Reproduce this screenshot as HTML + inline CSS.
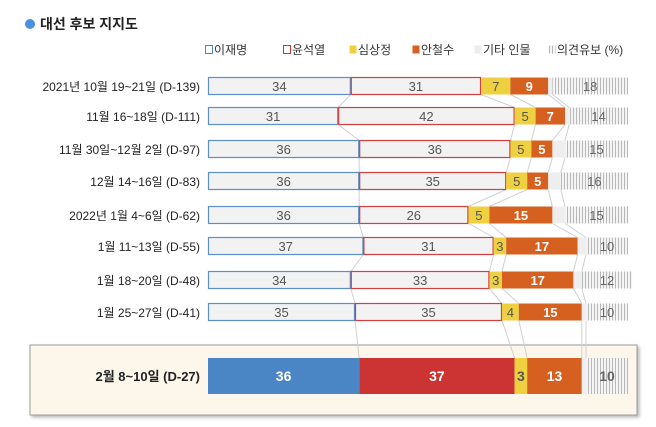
<!DOCTYPE html>
<html><head><meta charset="utf-8">
<style>
body{margin:0;background:#fff;font-family:"Liberation Sans","Noto Sans CJK KR",sans-serif;}
svg{display:block}
</style></head>
<body>
<svg id="chart" width="656" height="427" xmlns="http://www.w3.org/2000/svg" font-family="'Liberation Sans','Noto Sans CJK KR',sans-serif">
<defs>
<pattern id="hatch" width="3" height="4" patternUnits="userSpaceOnUse">
<rect width="3" height="4" fill="#f4f4f4"/><rect width="1" height="4" fill="#b8b8b8"/>
</pattern>
<filter id="sh" x="-5%" y="-20%" width="110%" height="140%"><feDropShadow dx="2" dy="2" stdDeviation="1.5" flood-color="#888" flood-opacity="0.6"/></filter>
</defs>
<circle cx="30" cy="24" r="5" fill="#4a90e2"/>
<text x="40" y="29" font-size="14" font-weight="bold" fill="#222">대선 후보 지지도</text>
<rect x="30" y="345" width="607" height="70" fill="#fdf6ea" stroke="#9a9a9a" stroke-width="1" filter="url(#sh)"/>
<g id="links"></g>
<g id="bars"></g>
<g id="legend"></g>
</svg>
<script>
const rowLabels=["2021년 10월 19~21일 (D-139)","11월 16~18일 (D-111)","11월 30일~12월 2일 (D-97)","12월 14~16일 (D-83)","2022년 1월 4~6일 (D-62)","1월 11~13일 (D-55)","1월 18~20일 (D-48)","1월 25~27일 (D-41)","2월 8~10일 (D-27)"];
const seriesNames=["이재명","윤석열","심상정","안철수","기타 인물","의견유보 (%)"];
const lee=[34,31,36,36,36,37,34,35,36];
const yoon=[31,42,36,35,26,31,33,35,37];
const sim=[7,5,5,5,5,3,3,4,3];
const ahn=[9,7,5,5,15,17,17,15,13];
const other=[1,1,3,3,3,2,2,1,1];
const undecided=[18,14,15,16,15,10,12,10,10];

const NS="http://www.w3.org/2000/svg";
const x0=208, W=420;
const xs=v=>x0+v/100*W;
const rowY=[86,116,149,181,215,246,280,312,376];
const rowH=i=>i===8?36:17;
const bars=document.getElementById('bars');
const links=document.getElementById('links');
function el(t,a,p){const e=document.createElementNS(NS,t);for(const k in a)e.setAttribute(k,a[k]);p.appendChild(e);return e;}
const series=[lee,yoon,sim,ahn,other,undecided];
const keys=['lee','yoon','sim','ahn','other','undecided'];
const bounds=[];
rowLabels.forEach((lab,i)=>{
  const cy=rowY[i],h=rowH(i),last=i===8;
  const t=el('text',{x:200,y:cy+5,'text-anchor':'end','font-size':last?13:12,'font-weight':last?'bold':'normal',fill:'#222'},bars);
  t.textContent=lab;
  
  
  let acc=0;const b=[];
  series.forEach((s,k)=>{
    const v=s[i];const xa=xs(acc),xb=xs(acc+v);acc+=v;b.push(xb);
    let fill,stroke='none',tc='#555';
    if(k===0){fill=last?'#4a86c6':'#f2f2f2';stroke=last?'none':'#5b8fc9';tc=last?'#fff':'#555';}
    else if(k===1){fill=last?'#cc3333':'#f2f2f2';stroke=last?'none':'#d04040';tc=last?'#fff':'#555';}
    else if(k===2){fill='#eed040';tc='#555';}
    else if(k===3){fill='#d66020';tc='#fff';}
    else if(k===4){fill='#eeeeee';}
    else {fill='url(#hatch)';tc='#666';}
    const r=el('rect',{x:xa+(stroke!=='none'?0.5:0),y:cy-h/2,width:Math.max(0,xb-xa-(stroke!=='none'?1:0)),height:h,fill:fill,stroke:stroke,'stroke-width':1.2},bars);
    
    
    if(k!==4){
      const tx=el('text',{x:(xa+xb)/2,y:cy+(last?5:5),'text-anchor':'middle','font-size':last?14:13,'font-weight':(last||k===3)?'bold':'normal',fill:tc},bars);
      tx.textContent=v;
      
      
    }
  });
  bounds.push(b);
});
for(let i=0;i<8;i++){
  for(let k=0;k<5;k++){
    const l=el('line',{x1:bounds[i][k],y1:rowY[i]+rowH(i)/2,x2:bounds[i+1][k],y2:rowY[i+1]-rowH(i+1)/2,stroke:'#d0d0d0','stroke-width':1},links);
    
    
  }
}
// legend
const lg=document.getElementById('legend');
const legX=[205,283,349,412,474,548];
const legStyle=[['#fff','#4a86c6'],['#fff','#cc3333'],['#eed040','none'],['#d66020','none'],['#eeeeee','none'],['url(#hatch)','none']];
seriesNames.forEach((n,k)=>{
  const g=el('g',{},lg);
  
  
  el('rect',{x:legX[k]+0.5,y:45.5,width:7,height:8,fill:legStyle[k][0],stroke:legStyle[k][1]},g);
  const t=el('text',{x:legX[k]+9,y:54,'font-size':12,fill:'#333'},g);
  t.textContent=n;
});
</script>
</body></html>
